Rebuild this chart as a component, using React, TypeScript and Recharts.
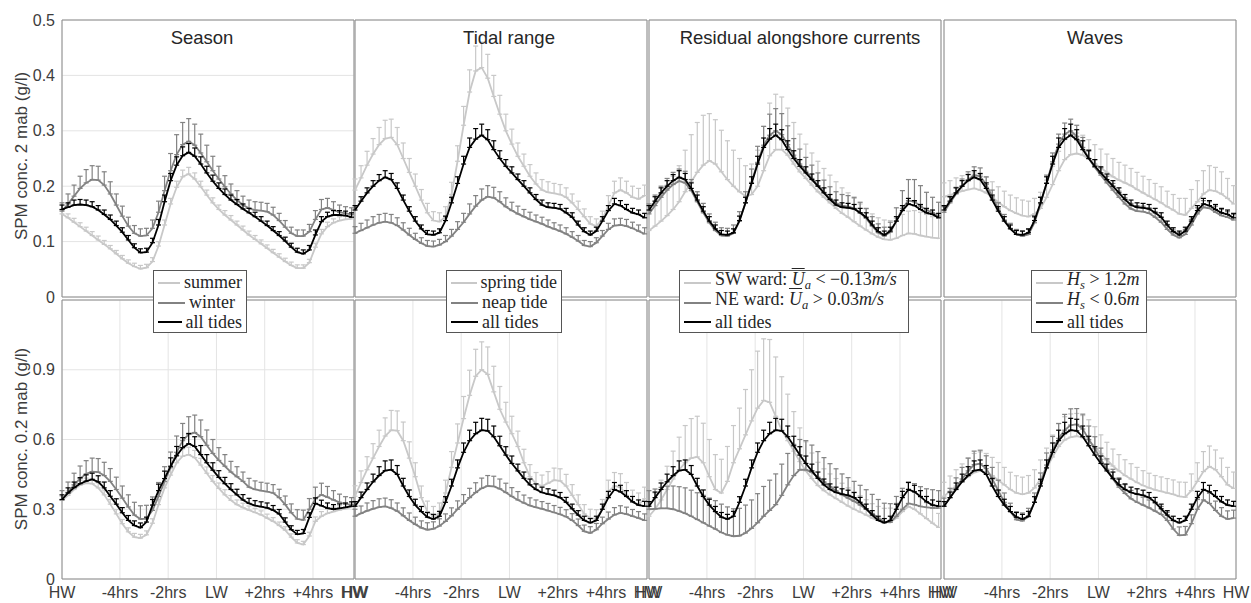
import React from "react";
import { LineChart, Line, XAxis, YAxis, CartesianGrid, ErrorBar, ReferenceArea } from "recharts";

// hours after high water, one sample every 15 min
const HOURS = [
  0, 0.25, 0.5, 0.75, 1, 1.25, 1.5, 1.75, 2, 2.25,
  2.5, 2.75, 3, 3.25, 3.5, 3.75, 4, 4.25, 4.5, 4.75,
  5, 5.25, 5.5, 5.75, 6, 6.25, 6.5, 6.75, 7, 7.25,
  7.5, 7.75, 8, 8.25, 8.5, 8.75, 9, 9.25, 9.5, 9.75,
  10, 10.25, 10.5, 10.75, 11, 11.25, 11.5, 11.75, 12,
];
const X_TICKS = [0, 2.4, 4.4, 6.4, 8.4, 10.4, 12.1];
const X_LABELS = ["HW", "-4hrs", "-2hrs", "LW", "+2hrs", "+4hrs", "HW"];
const Y_TICKS_2 = [0, 0.1, 0.2, 0.3, 0.4, 0.5];
const Y_TICKS_02 = [0, 0.3, 0.6, 0.9];
const Y_TICKS_02_WAVES = [0, 0.2, 0.4, 0.6, 0.8, 1.0];
const TITLES = ["Season", "Tidal range", "Residual alongshore currents", "Waves"];

// ---- 2 mab (top row) ----
const SUMMER_2 = [
  0.150, 0.143, 0.135, 0.127, 0.119, 0.111, 0.103, 0.095, 0.087, 0.078,
  0.069, 0.061, 0.055, 0.051, 0.053, 0.064, 0.092, 0.130, 0.168, 0.198,
  0.217, 0.222, 0.213, 0.199, 0.184, 0.170, 0.158, 0.148, 0.139, 0.130,
  0.121, 0.112, 0.104, 0.096, 0.088, 0.080, 0.072, 0.064, 0.057, 0.052,
  0.052, 0.062, 0.090, 0.114, 0.127, 0.134, 0.138, 0.140, 0.141,
];
const SUMMER_2_ERR = [
  0.007, 0.007, 0.007, 0.007, 0.007, 0.007, 0.007, 0.007, 0.006, 0.006,
  0.006, 0.006, 0.006, 0.006, 0.006, 0.007, 0.008, 0.009, 0.010, 0.011,
  0.012, 0.012, 0.011, 0.010, 0.009, 0.009, 0.008, 0.008, 0.008, 0.007,
  0.007, 0.007, 0.007, 0.007, 0.006, 0.006, 0.006, 0.006, 0.006, 0.006,
  0.006, 0.006, 0.007, 0.008, 0.008, 0.007, 0.007, 0.007, 0.007,
];
const WINTER_2 = [
  0.155, 0.168, 0.182, 0.196, 0.206, 0.212, 0.211, 0.202, 0.186, 0.166,
  0.146, 0.128, 0.115, 0.110, 0.111, 0.124, 0.153, 0.192, 0.228, 0.257,
  0.275, 0.281, 0.274, 0.260, 0.244, 0.228, 0.213, 0.199, 0.186, 0.175,
  0.166, 0.160, 0.157, 0.156, 0.154, 0.148, 0.138, 0.126, 0.115, 0.110,
  0.110, 0.118, 0.140, 0.158, 0.161, 0.157, 0.153, 0.151, 0.149,
];
const WINTER_2_ERR = [
  0.015, 0.018, 0.020, 0.022, 0.024, 0.025, 0.025, 0.024, 0.022, 0.020,
  0.018, 0.016, 0.014, 0.013, 0.013, 0.015, 0.020, 0.026, 0.031, 0.036,
  0.040, 0.041, 0.038, 0.034, 0.030, 0.026, 0.023, 0.020, 0.018, 0.017,
  0.016, 0.015, 0.015, 0.015, 0.015, 0.014, 0.013, 0.012, 0.011, 0.011,
  0.011, 0.013, 0.016, 0.018, 0.017, 0.015, 0.013, 0.012, 0.012,
];
const ALL_SEASON_2 = [
  0.158, 0.162, 0.166, 0.167, 0.166, 0.163, 0.157, 0.149, 0.140, 0.129,
  0.117, 0.103, 0.089, 0.080, 0.081, 0.098, 0.130, 0.172, 0.210, 0.238,
  0.255, 0.261, 0.254, 0.240, 0.224, 0.209, 0.196, 0.185, 0.175, 0.167,
  0.159, 0.152, 0.145, 0.137, 0.129, 0.120, 0.111, 0.101, 0.090, 0.081,
  0.078, 0.085, 0.112, 0.136, 0.145, 0.148, 0.148, 0.147, 0.144,
];
const ALL_SEASON_2_ERR = [
  0.008, 0.008, 0.009, 0.009, 0.009, 0.009, 0.008, 0.008, 0.008, 0.008,
  0.008, 0.008, 0.007, 0.007, 0.007, 0.008, 0.010, 0.012, 0.013, 0.015,
  0.016, 0.016, 0.015, 0.013, 0.012, 0.011, 0.010, 0.010, 0.009, 0.009,
  0.009, 0.008, 0.008, 0.008, 0.008, 0.007, 0.007, 0.007, 0.007, 0.007,
  0.007, 0.008, 0.009, 0.009, 0.008, 0.008, 0.008, 0.008, 0.008,
];
const ALL_2 = [
  0.157, 0.173, 0.188, 0.200, 0.210, 0.216, 0.212, 0.196, 0.175, 0.155,
  0.137, 0.123, 0.113, 0.112, 0.116, 0.138, 0.170, 0.205, 0.240, 0.270,
  0.285, 0.292, 0.284, 0.266, 0.250, 0.236, 0.224, 0.212, 0.200, 0.188,
  0.176, 0.166, 0.162, 0.161, 0.159, 0.152, 0.144, 0.130, 0.118, 0.112,
  0.119, 0.137, 0.156, 0.168, 0.165, 0.158, 0.152, 0.149, 0.143,
];
const ALL_2_ERR = [
  0.008, 0.008, 0.009, 0.010, 0.011, 0.012, 0.011, 0.010, 0.009, 0.008,
  0.008, 0.007, 0.007, 0.007, 0.007, 0.008, 0.010, 0.012, 0.014, 0.017,
  0.019, 0.020, 0.018, 0.016, 0.014, 0.012, 0.011, 0.010, 0.010, 0.009,
  0.009, 0.009, 0.008, 0.008, 0.008, 0.008, 0.008, 0.007, 0.007, 0.007,
  0.007, 0.008, 0.009, 0.010, 0.009, 0.009, 0.008, 0.008, 0.008,
];
const SPRING_2 = [
  0.193, 0.215, 0.238, 0.258, 0.275, 0.286, 0.288, 0.275, 0.250, 0.225,
  0.200, 0.175, 0.152, 0.138, 0.136, 0.145, 0.185, 0.245, 0.310, 0.370,
  0.408, 0.414, 0.395, 0.362, 0.330, 0.300, 0.276, 0.254, 0.236, 0.218,
  0.204, 0.193, 0.189, 0.187, 0.185, 0.180, 0.170, 0.158, 0.145, 0.132,
  0.128, 0.140, 0.165, 0.188, 0.193, 0.188, 0.180, 0.177, 0.183,
];
const SPRING_2_ERR = [
  0.020, 0.022, 0.025, 0.028, 0.031, 0.033, 0.033, 0.031, 0.028, 0.025,
  0.022, 0.019, 0.017, 0.016, 0.016, 0.018, 0.022, 0.028, 0.034, 0.040,
  0.045, 0.046, 0.043, 0.038, 0.034, 0.030, 0.027, 0.024, 0.022, 0.021,
  0.020, 0.019, 0.019, 0.018, 0.018, 0.017, 0.016, 0.015, 0.014, 0.013,
  0.013, 0.015, 0.018, 0.021, 0.022, 0.021, 0.020, 0.019, 0.019,
];
const NEAP_2 = [
  0.115, 0.120, 0.125, 0.130, 0.134, 0.136, 0.134, 0.129, 0.121, 0.112,
  0.104, 0.097, 0.092, 0.091, 0.094, 0.100, 0.110, 0.122, 0.135, 0.150,
  0.164, 0.175, 0.181, 0.179, 0.172, 0.163, 0.156, 0.150, 0.145, 0.140,
  0.136, 0.132, 0.127, 0.123, 0.119, 0.114, 0.108, 0.101, 0.093, 0.091,
  0.098, 0.110, 0.122, 0.129, 0.130, 0.128, 0.124, 0.119, 0.114,
];
const NEAP_2_ERR = [
  0.012, 0.013, 0.014, 0.015, 0.015, 0.015, 0.015, 0.014, 0.013, 0.012,
  0.011, 0.010, 0.010, 0.010, 0.010, 0.011, 0.012, 0.014, 0.016, 0.018,
  0.019, 0.020, 0.020, 0.019, 0.018, 0.016, 0.015, 0.014, 0.013, 0.013,
  0.012, 0.012, 0.012, 0.011, 0.011, 0.011, 0.010, 0.010, 0.009, 0.009,
  0.009, 0.010, 0.011, 0.012, 0.012, 0.012, 0.011, 0.011, 0.011,
];
const SW_2 = [
  0.120, 0.128, 0.137, 0.147, 0.158, 0.172, 0.190, 0.208, 0.225, 0.238,
  0.246, 0.240, 0.226, 0.212, 0.200, 0.190, 0.182, 0.185, 0.200, 0.228,
  0.255, 0.266, 0.266, 0.256, 0.240, 0.226, 0.214, 0.202, 0.190, 0.180,
  0.170, 0.160, 0.151, 0.144, 0.136, 0.128, 0.121, 0.114, 0.108, 0.104,
  0.103, 0.106, 0.111, 0.115, 0.114, 0.111, 0.109, 0.107, 0.106,
];
const SW_2_ERR = [
  0.040, 0.045, 0.050, 0.055, 0.060, 0.065, 0.075, 0.085, 0.090, 0.090,
  0.085, 0.080, 0.075, 0.070, 0.065, 0.060, 0.055, 0.055, 0.065, 0.080,
  0.095, 0.100, 0.095, 0.085, 0.075, 0.068, 0.062, 0.058, 0.055, 0.052,
  0.050, 0.048, 0.046, 0.044, 0.042, 0.040, 0.038, 0.036, 0.035, 0.035,
  0.035, 0.036, 0.038, 0.040, 0.042, 0.042, 0.040, 0.038, 0.036,
];
const NE_2 = [
  0.150, 0.165, 0.180, 0.193, 0.203, 0.209, 0.206, 0.192, 0.172, 0.152,
  0.134, 0.120, 0.111, 0.110, 0.115, 0.137, 0.170, 0.207, 0.243, 0.274,
  0.292, 0.300, 0.293, 0.275, 0.256, 0.240, 0.227, 0.214, 0.201, 0.189,
  0.178, 0.169, 0.165, 0.163, 0.160, 0.152, 0.142, 0.128, 0.116, 0.110,
  0.117, 0.137, 0.160, 0.174, 0.172, 0.164, 0.157, 0.152, 0.146,
];
const NE_2_ERR = [
  0.018, 0.019, 0.020, 0.021, 0.022, 0.022, 0.021, 0.020, 0.018, 0.017,
  0.016, 0.015, 0.014, 0.014, 0.015, 0.017, 0.020, 0.024, 0.029, 0.034,
  0.038, 0.040, 0.038, 0.034, 0.030, 0.027, 0.025, 0.024, 0.023, 0.022,
  0.021, 0.021, 0.020, 0.020, 0.020, 0.019, 0.018, 0.017, 0.016, 0.016,
  0.018, 0.024, 0.032, 0.038, 0.040, 0.037, 0.032, 0.028, 0.025,
];
const HS_HIGH_2 = [
  0.181, 0.184, 0.188, 0.191, 0.194, 0.196, 0.193, 0.188, 0.180, 0.171,
  0.163, 0.156, 0.151, 0.147, 0.145, 0.150, 0.160, 0.180, 0.203, 0.228,
  0.248, 0.257, 0.259, 0.256, 0.249, 0.241, 0.233, 0.225, 0.217, 0.211,
  0.206, 0.201, 0.194, 0.188, 0.182, 0.176, 0.170, 0.163, 0.157, 0.150,
  0.148, 0.160, 0.172, 0.186, 0.193, 0.191, 0.186, 0.178, 0.168,
];
const HS_HIGH_2_ERR = [
  0.025, 0.026, 0.027, 0.028, 0.028, 0.028, 0.028, 0.028, 0.028, 0.028,
  0.028, 0.028, 0.028, 0.028, 0.028, 0.028, 0.029, 0.031, 0.033, 0.035,
  0.036, 0.037, 0.037, 0.036, 0.035, 0.034, 0.034, 0.033, 0.033, 0.032,
  0.032, 0.031, 0.031, 0.030, 0.030, 0.029, 0.029, 0.028, 0.028, 0.028,
  0.030, 0.034, 0.038, 0.042, 0.044, 0.043, 0.040, 0.036, 0.033,
];
const HS_LOW_2 = [
  0.153, 0.170, 0.186, 0.200, 0.212, 0.220, 0.218, 0.203, 0.181, 0.159,
  0.139, 0.124, 0.113, 0.110, 0.113, 0.134, 0.168, 0.206, 0.244, 0.276,
  0.294, 0.300, 0.290, 0.270, 0.250, 0.234, 0.220, 0.206, 0.193, 0.180,
  0.168, 0.159, 0.155, 0.154, 0.151, 0.144, 0.135, 0.122, 0.112, 0.107,
  0.113, 0.130, 0.150, 0.162, 0.160, 0.153, 0.147, 0.144, 0.139,
];
const HS_LOW_2_ERR = [
  0.010, 0.011, 0.012, 0.013, 0.014, 0.015, 0.015, 0.014, 0.012, 0.011,
  0.010, 0.009, 0.009, 0.009, 0.009, 0.010, 0.012, 0.014, 0.016, 0.018,
  0.020, 0.021, 0.020, 0.018, 0.016, 0.014, 0.013, 0.012, 0.012, 0.011,
  0.011, 0.010, 0.010, 0.010, 0.010, 0.010, 0.009, 0.009, 0.009, 0.009,
  0.009, 0.010, 0.011, 0.012, 0.012, 0.011, 0.011, 0.010, 0.010,
];

// ---- 0.2 mab (bottom row) ----
const SUMMER_02 = [
  0.338, 0.360, 0.385, 0.404, 0.412, 0.410, 0.392, 0.362, 0.322, 0.280,
  0.238, 0.203, 0.180, 0.176, 0.190, 0.240, 0.320, 0.392, 0.447, 0.500,
  0.528, 0.535, 0.522, 0.490, 0.455, 0.420, 0.390, 0.362, 0.338, 0.320,
  0.307, 0.296, 0.286, 0.276, 0.262, 0.248, 0.230, 0.210, 0.180, 0.155,
  0.148, 0.185, 0.248, 0.270, 0.282, 0.290, 0.297, 0.303, 0.310,
];
const SUMMER_02_ERR = [
  0.018, 0.019, 0.020, 0.021, 0.022, 0.022, 0.022, 0.021, 0.020, 0.019,
  0.018, 0.017, 0.016, 0.016, 0.017, 0.019, 0.022, 0.025, 0.028, 0.030,
  0.032, 0.032, 0.031, 0.029, 0.027, 0.025, 0.023, 0.022, 0.021, 0.020,
  0.019, 0.018, 0.018, 0.017, 0.017, 0.016, 0.015, 0.015, 0.014, 0.014,
  0.014, 0.016, 0.019, 0.020, 0.020, 0.019, 0.018, 0.018, 0.018,
];
const WINTER_02 = [
  0.340, 0.372, 0.405, 0.432, 0.452, 0.462, 0.460, 0.445, 0.420, 0.385,
  0.348, 0.310, 0.275, 0.258, 0.260, 0.295, 0.355, 0.420, 0.480, 0.545,
  0.595, 0.622, 0.630, 0.612, 0.575, 0.540, 0.510, 0.485, 0.460, 0.440,
  0.420, 0.395, 0.385, 0.380, 0.376, 0.370, 0.350, 0.320, 0.285, 0.258,
  0.254, 0.300, 0.345, 0.362, 0.352, 0.340, 0.330, 0.322, 0.320,
];
const WINTER_02_ERR = [
  0.040, 0.045, 0.050, 0.054, 0.057, 0.058, 0.058, 0.057, 0.055, 0.053,
  0.052, 0.052, 0.055, 0.057, 0.057, 0.058, 0.060, 0.063, 0.066, 0.070,
  0.074, 0.076, 0.075, 0.072, 0.066, 0.060, 0.055, 0.050, 0.046, 0.043,
  0.040, 0.038, 0.037, 0.036, 0.036, 0.036, 0.036, 0.037, 0.038, 0.040,
  0.042, 0.046, 0.050, 0.050, 0.046, 0.040, 0.035, 0.032, 0.030,
];
const ALL_SEASON_02 = [
  0.342, 0.370, 0.393, 0.410, 0.421, 0.428, 0.418, 0.392, 0.356, 0.322,
  0.285, 0.252, 0.230, 0.221, 0.245, 0.318, 0.380, 0.432, 0.485, 0.530,
  0.565, 0.582, 0.570, 0.535, 0.500, 0.468, 0.437, 0.410, 0.385, 0.362,
  0.340, 0.325, 0.316, 0.311, 0.306, 0.296, 0.280, 0.245, 0.212, 0.192,
  0.196, 0.265, 0.325, 0.315, 0.305, 0.300, 0.304, 0.308, 0.313,
];
const ALL_SEASON_02_ERR = [
  0.020, 0.022, 0.024, 0.026, 0.027, 0.027, 0.026, 0.025, 0.024, 0.023,
  0.022, 0.021, 0.020, 0.020, 0.021, 0.024, 0.028, 0.032, 0.036, 0.040,
  0.043, 0.044, 0.042, 0.039, 0.035, 0.032, 0.029, 0.027, 0.025, 0.024,
  0.023, 0.022, 0.021, 0.021, 0.021, 0.020, 0.019, 0.018, 0.017, 0.017,
  0.017, 0.020, 0.024, 0.024, 0.022, 0.020, 0.019, 0.019, 0.019,
];
const ALL_02 = [
  0.313, 0.350, 0.385, 0.418, 0.445, 0.466, 0.470, 0.450, 0.400, 0.355,
  0.318, 0.290, 0.266, 0.258, 0.270, 0.330, 0.400, 0.478, 0.545, 0.595,
  0.625, 0.640, 0.637, 0.612, 0.573, 0.533, 0.497, 0.465, 0.433, 0.405,
  0.385, 0.372, 0.365, 0.360, 0.350, 0.330, 0.302, 0.275, 0.252, 0.242,
  0.252, 0.300, 0.350, 0.385, 0.375, 0.355, 0.332, 0.318, 0.313,
];
const ALL_02_ERR = [
  0.020, 0.024, 0.028, 0.033, 0.038, 0.042, 0.042, 0.038, 0.033, 0.028,
  0.025, 0.022, 0.020, 0.020, 0.021, 0.024, 0.029, 0.034, 0.040, 0.045,
  0.049, 0.051, 0.050, 0.046, 0.041, 0.036, 0.032, 0.029, 0.027, 0.025,
  0.024, 0.023, 0.023, 0.022, 0.022, 0.021, 0.020, 0.019, 0.018, 0.018,
  0.018, 0.022, 0.027, 0.030, 0.028, 0.025, 0.023, 0.022, 0.021,
];
const SPRING_02 = [
  0.356, 0.415, 0.470, 0.520, 0.570, 0.615, 0.640, 0.638, 0.595, 0.520,
  0.440, 0.350, 0.290, 0.270, 0.282, 0.370, 0.480, 0.585, 0.690, 0.790,
  0.872, 0.900, 0.880, 0.805, 0.730, 0.675, 0.625, 0.570, 0.500, 0.440,
  0.410, 0.400, 0.412, 0.425, 0.422, 0.400, 0.360, 0.320, 0.280, 0.262,
  0.260, 0.300, 0.375, 0.400, 0.395, 0.360, 0.330, 0.320, 0.345,
];
const SPRING_02_ERR = [
  0.045, 0.050, 0.056, 0.062, 0.070, 0.078, 0.085, 0.085, 0.080, 0.070,
  0.060, 0.050, 0.045, 0.042, 0.045, 0.055, 0.068, 0.082, 0.095, 0.108,
  0.116, 0.120, 0.118, 0.110, 0.098, 0.085, 0.075, 0.066, 0.058, 0.052,
  0.048, 0.047, 0.050, 0.052, 0.052, 0.050, 0.046, 0.042, 0.040, 0.038,
  0.038, 0.042, 0.050, 0.058, 0.058, 0.055, 0.052, 0.050, 0.050,
];
const NEAP_02 = [
  0.270, 0.282, 0.293, 0.302, 0.309, 0.312, 0.305, 0.292, 0.272, 0.252,
  0.235, 0.220, 0.212, 0.216, 0.228, 0.248, 0.272, 0.300, 0.325, 0.350,
  0.372, 0.390, 0.400, 0.398, 0.388, 0.372, 0.355, 0.340, 0.327, 0.316,
  0.308, 0.302, 0.294, 0.286, 0.278, 0.268, 0.252, 0.230, 0.205, 0.198,
  0.212, 0.238, 0.258, 0.276, 0.284, 0.279, 0.270, 0.262, 0.252,
];
const NEAP_02_ERR = [
  0.030, 0.032, 0.034, 0.035, 0.036, 0.036, 0.036, 0.035, 0.034, 0.032,
  0.031, 0.030, 0.030, 0.030, 0.031, 0.032, 0.034, 0.036, 0.038, 0.040,
  0.042, 0.044, 0.045, 0.044, 0.042, 0.040, 0.038, 0.036, 0.034, 0.033,
  0.032, 0.031, 0.031, 0.030, 0.030, 0.030, 0.029, 0.028, 0.027, 0.027,
  0.027, 0.028, 0.030, 0.031, 0.031, 0.030, 0.029, 0.028, 0.028,
];
const SW_02 = [
  0.270, 0.300, 0.340, 0.385, 0.430, 0.470, 0.500, 0.520, 0.525, 0.500,
  0.440, 0.385, 0.370, 0.420, 0.500, 0.560, 0.620, 0.680, 0.735, 0.768,
  0.760, 0.700, 0.640, 0.595, 0.550, 0.505, 0.465, 0.432, 0.402, 0.380,
  0.362, 0.346, 0.330, 0.314, 0.300, 0.288, 0.275, 0.262, 0.252, 0.244,
  0.245, 0.262, 0.290, 0.312, 0.300, 0.280, 0.260, 0.240, 0.222,
];
const SW_02_ERR = [
  0.060, 0.070, 0.085, 0.100, 0.120, 0.140, 0.160, 0.170, 0.175, 0.170,
  0.160, 0.150, 0.145, 0.150, 0.160, 0.175, 0.195, 0.220, 0.245, 0.265,
  0.270, 0.255, 0.230, 0.200, 0.170, 0.145, 0.125, 0.110, 0.100, 0.094,
  0.090, 0.086, 0.082, 0.078, 0.074, 0.070, 0.066, 0.062, 0.060, 0.060,
  0.060, 0.064, 0.070, 0.075, 0.075, 0.072, 0.068, 0.064, 0.060,
];
const NE_02 = [
  0.300, 0.302, 0.304, 0.304, 0.300, 0.292, 0.282, 0.270, 0.256, 0.242,
  0.228, 0.215, 0.200, 0.190, 0.184, 0.186, 0.198, 0.218, 0.242, 0.270,
  0.295, 0.320, 0.360, 0.405, 0.445, 0.470, 0.470, 0.458, 0.438, 0.418,
  0.398, 0.380, 0.362, 0.348, 0.334, 0.318, 0.300, 0.282, 0.262, 0.246,
  0.244, 0.270, 0.300, 0.325, 0.320, 0.312, 0.308, 0.306, 0.305,
];
const NE_02_ERR = [
  0.080, 0.085, 0.090, 0.095, 0.100, 0.105, 0.110, 0.112, 0.115, 0.118,
  0.120, 0.122, 0.122, 0.120, 0.118, 0.118, 0.120, 0.122, 0.125, 0.128,
  0.130, 0.132, 0.134, 0.135, 0.134, 0.130, 0.125, 0.118, 0.110, 0.104,
  0.098, 0.094, 0.090, 0.088, 0.086, 0.085, 0.084, 0.082, 0.080, 0.080,
  0.080, 0.085, 0.090, 0.092, 0.090, 0.085, 0.080, 0.078, 0.075,
];
const HS_HIGH_02 = [
  0.356, 0.378, 0.400, 0.420, 0.440, 0.458, 0.465, 0.460, 0.445, 0.425,
  0.405, 0.385, 0.370, 0.364, 0.370, 0.392, 0.430, 0.475, 0.525, 0.570,
  0.598, 0.610, 0.614, 0.608, 0.595, 0.570, 0.540, 0.512, 0.486, 0.465,
  0.445, 0.430, 0.415, 0.402, 0.392, 0.383, 0.377, 0.370, 0.364, 0.355,
  0.352, 0.380, 0.420, 0.462, 0.484, 0.470, 0.440, 0.405, 0.390,
];
const HS_HIGH_02_ERR = [
  0.060, 0.065, 0.070, 0.075, 0.080, 0.082, 0.082, 0.080, 0.078, 0.076,
  0.075, 0.074, 0.074, 0.074, 0.075, 0.078, 0.082, 0.088, 0.094, 0.098,
  0.100, 0.100, 0.098, 0.095, 0.090, 0.085, 0.080, 0.076, 0.073, 0.070,
  0.068, 0.066, 0.065, 0.064, 0.063, 0.062, 0.062, 0.062, 0.062, 0.062,
  0.064, 0.072, 0.080, 0.086, 0.088, 0.085, 0.080, 0.075, 0.070,
];
const HS_LOW_02 = [
  0.313, 0.350, 0.390, 0.430, 0.465, 0.492, 0.496, 0.475, 0.430, 0.380,
  0.330, 0.290, 0.255, 0.250, 0.268, 0.330, 0.410, 0.490, 0.555, 0.605,
  0.640, 0.662, 0.665, 0.645, 0.600, 0.560, 0.515, 0.472, 0.430, 0.395,
  0.368, 0.345, 0.330, 0.318, 0.306, 0.292, 0.278, 0.252, 0.215, 0.188,
  0.190, 0.238, 0.300, 0.340, 0.325, 0.295, 0.270, 0.258, 0.262,
];
const HS_LOW_02_ERR = [
  0.035, 0.040, 0.045, 0.050, 0.055, 0.058, 0.058, 0.055, 0.050, 0.045,
  0.040, 0.036, 0.034, 0.034, 0.036, 0.040, 0.046, 0.052, 0.058, 0.064,
  0.068, 0.070, 0.068, 0.064, 0.058, 0.052, 0.048, 0.045, 0.042, 0.040,
  0.038, 0.036, 0.035, 0.034, 0.034, 0.034, 0.034, 0.035, 0.036, 0.036,
  0.036, 0.038, 0.042, 0.045, 0.044, 0.040, 0.037, 0.035, 0.034,
];

const LIGHT = "#c8c8c8";
const MID = "#828282";
const DARK = "#000000";
const BOX = "#8c8c8c";
const GRID = "#e4e4e4";

type Series = { name: string; color: string; values: number[]; err: number[] };

const TOP_PANELS: Series[][] = [
  [
    { name: "summer", color: LIGHT, values: SUMMER_2, err: SUMMER_2_ERR },
    { name: "winter", color: MID, values: WINTER_2, err: WINTER_2_ERR },
    { name: "all tides", color: DARK, values: ALL_SEASON_2, err: ALL_SEASON_2_ERR },
  ],
  [
    { name: "spring tide", color: LIGHT, values: SPRING_2, err: SPRING_2_ERR },
    { name: "neap tide", color: MID, values: NEAP_2, err: NEAP_2_ERR },
    { name: "all tides", color: DARK, values: ALL_2, err: ALL_2_ERR },
  ],
  [
    { name: "SW ward", color: LIGHT, values: SW_2, err: SW_2_ERR },
    { name: "NE ward", color: MID, values: NE_2, err: NE_2_ERR },
    { name: "all tides", color: DARK, values: ALL_2, err: ALL_2_ERR },
  ],
  [
    { name: "Hs > 1.2m", color: LIGHT, values: HS_HIGH_2, err: HS_HIGH_2_ERR },
    { name: "Hs < 0.6m", color: MID, values: HS_LOW_2, err: HS_LOW_2_ERR },
    { name: "all tides", color: DARK, values: ALL_2, err: ALL_2_ERR },
  ],
];

const BOTTOM_PANELS: Series[][] = [
  [
    { name: "summer", color: LIGHT, values: SUMMER_02, err: SUMMER_02_ERR },
    { name: "winter", color: MID, values: WINTER_02, err: WINTER_02_ERR },
    { name: "all tides", color: DARK, values: ALL_SEASON_02, err: ALL_SEASON_02_ERR },
  ],
  [
    { name: "spring tide", color: LIGHT, values: SPRING_02, err: SPRING_02_ERR },
    { name: "neap tide", color: MID, values: NEAP_02, err: NEAP_02_ERR },
    { name: "all tides", color: DARK, values: ALL_02, err: ALL_02_ERR },
  ],
  [
    { name: "SW ward", color: LIGHT, values: SW_02, err: SW_02_ERR },
    { name: "NE ward", color: MID, values: NE_02, err: NE_02_ERR },
    { name: "all tides", color: DARK, values: ALL_02, err: ALL_02_ERR },
  ],
  [
    { name: "Hs > 1.2m", color: LIGHT, values: HS_HIGH_02, err: HS_HIGH_02_ERR },
    { name: "Hs < 0.6m", color: MID, values: HS_LOW_02, err: HS_LOW_02_ERR },
    { name: "all tides", color: DARK, values: ALL_02, err: ALL_02_ERR },
  ],
];

const it = { fontStyle: "italic" } as const;
const sub = { fontSize: "0.7em", verticalAlign: "-0.3em" } as const;
const bar = { textDecoration: "overline" } as const;
const LEGEND_LABELS: React.ReactNode[][] = [
  ["summer", "winter", "all tides"],
  ["spring tide", "neap tide", "all tides"],
  [
    <>SW ward: <span style={it}><span style={bar}>U</span><span style={sub}>a</span></span> &lt; −0.13<span style={it}>m/s</span></>,
    <>NE ward: <span style={it}><span style={bar}>U</span><span style={sub}>a</span></span> &gt; 0.03<span style={it}>m/s</span></>,
    "all tides",
  ],
  [
    <><span style={it}>H<span style={sub}>s</span></span> &gt; 1.2<span style={it}>m</span></>,
    <><span style={it}>H<span style={sub}>s</span></span> &lt; 0.6<span style={it}>m</span></>,
    "all tides",
  ],
];

// layout
const PLOT_LEFT = [62, 355, 649, 944];
const PLOT_W = 292;
const YW = 56;
const XH = 28;
const MT = 12;
const MR = 14;
const LEGEND_BOX = [
  { left: 153, width: 94 },
  { left: 446, width: 116 },
  { left: 679, width: 230 },
  { left: 1031, width: 116 },
];
const TITLE_X = [202, 509, 800, 1095];

const TICK = { fontSize: 16, fill: "#3c3c3c", fontFamily: "Liberation Sans, Arial, sans-serif" };

function Panel({
  left, top, height, series, yDomain, yTicks, showY, showX,
}: {
  left: number; top: number; height: number; series: Series[];
  yDomain: [number, number]; yTicks: number[]; showY: boolean; showX: boolean;
}) {
  const data = HOURS.map((t, i) => {
    const row: Record<string, unknown> = { t };
    series.forEach((s, k) => {
      row[`v${k}`] = s.values[i];
      row[`e${k}`] = [0, s.err[i]];
    });
    return row;
  });
  return (
    <div style={{ position: "absolute", left: left - YW, top: top - MT }}>
      <LineChart
        width={YW + PLOT_W + MR}
        height={MT + height + XH}
        data={data}
        margin={{ top: MT, right: MR, bottom: 0, left: 0 }}
      >
        <CartesianGrid stroke={GRID} />
        <XAxis
          dataKey="t" type="number" domain={[0, 12.1]} ticks={X_TICKS}
          tickFormatter={(v: number) => X_LABELS[X_TICKS.indexOf(v)]}
          height={XH} tick={showX ? TICK : false} axisLine={false} tickLine={false}
          interval={0} allowDataOverflow
        />
        <YAxis
          type="number" domain={yDomain} ticks={yTicks} width={YW}
          tick={showY ? TICK : false} axisLine={false} tickLine={false}
          tickMargin={1} interval={0} allowDataOverflow
        />
        <ReferenceArea
          x1={0} x2={12.1} y1={yDomain[0]} y2={yDomain[1]}
          fill="none" stroke={BOX} strokeWidth={1} ifOverflow="visible"
        />
        {series.map((s, k) => (
          <Line
            key={k} type="linear" dataKey={`v${k}`} stroke={s.color}
            strokeWidth={1.8} dot={false} isAnimationActive={false}
          >
            <ErrorBar dataKey={`e${k}`} width={2.5} stroke={s.color} strokeWidth={1.2} direction="y" />
          </Line>
        ))}
      </LineChart>
    </div>
  );
}

function LegendBox({ col }: { col: number }) {
  const box = LEGEND_BOX[col];
  return (
    <div
      style={{
        position: "absolute", left: box.left, top: 270, width: box.width, height: 63,
        boxSizing: "border-box", border: "1px solid #555", background: "#fff",
        padding: "2px 4px", fontFamily: "Liberation Serif, Times New Roman, serif",
        fontSize: 18, lineHeight: "19.8px", color: "#262626", zIndex: 5, whiteSpace: "nowrap",
      }}
    >
      {TOP_PANELS[col].map((s, k) => (
        <div key={k} style={{ display: "flex", alignItems: "center", height: 19.8 }}>
          <span style={{ display: "inline-block", width: 27, borderTop: `2px solid ${s.color}`, marginRight: 4 }} />
          <span>{LEGEND_LABELS[col][k]}</span>
        </div>
      ))}
    </div>
  );
}

export default function App() {
  return (
    <div
      style={{
        position: "absolute", left: 0, top: 0, width: 1251, height: 603, background: "#fff",
        overflow: "hidden", fontFamily: "Liberation Sans, Arial, sans-serif",
      }}
    >
      {TOP_PANELS.map((s, c) => (
        <Panel
          key={`t${c}`} left={PLOT_LEFT[c]} top={20} height={277} series={s}
          yDomain={[0, 0.5]} yTicks={Y_TICKS_2} showY={c === 0} showX={false}
        />
      ))}
      {BOTTOM_PANELS.map((s, c) => (
        <Panel
          key={`b${c}`} left={PLOT_LEFT[c]} top={300} height={279} series={s}
          yDomain={[0, 1.2]} yTicks={c === 3 ? Y_TICKS_02_WAVES : Y_TICKS_02}
          showY={c === 0} showX
        />
      ))}
      {TITLES.map((t, c) => (
        <div
          key={t}
          style={{
            position: "absolute", left: TITLE_X[c], top: 38, transform: "translate(-50%, -50%)",
            fontSize: 18.5, color: "#262626", whiteSpace: "nowrap", zIndex: 4,
          }}
        >
          {t}
        </div>
      ))}
      <div
        style={{
          position: "absolute", left: 22, top: 156, transform: "translate(-50%, -50%) rotate(-90deg)",
          fontSize: 17, color: "#3c3c3c", whiteSpace: "nowrap",
        }}
      >
        SPM conc. 2 mab (g/l)
      </div>
      <div
        style={{
          position: "absolute", left: 22, top: 439, transform: "translate(-50%, -50%) rotate(-90deg)",
          fontSize: 17, color: "#3c3c3c", whiteSpace: "nowrap",
        }}
      >
        SPM conc. 0.2 mab (g/l)
      </div>
      {[0, 1, 2, 3].map((c) => (
        <LegendBox key={c} col={c} />
      ))}
    </div>
  );
}
